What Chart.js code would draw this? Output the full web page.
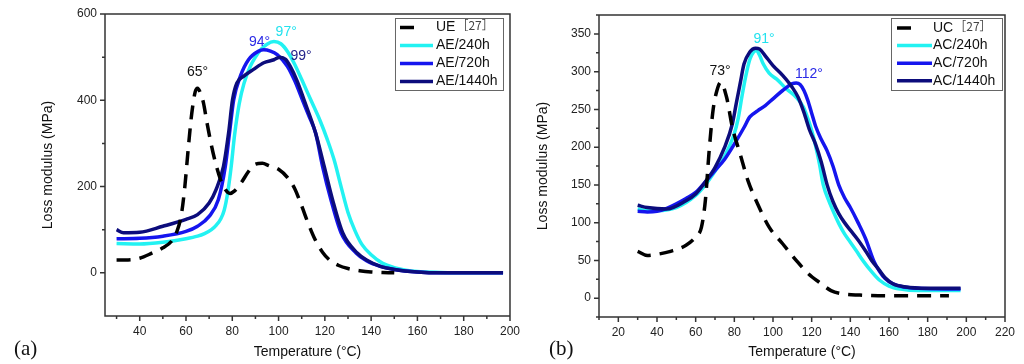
<!DOCTYPE html>
<html>
<head>
<meta charset="utf-8">
<script src="https://cdn.jsdelivr.net/npm/chart.js@4.4.0/dist/chart.umd.min.js"></script>
<style>
  html, body { margin: 0; padding: 0; background: #fff; width: 1024px; height: 364px; overflow: hidden; }
  canvas { position: absolute; top: 0; }
  #chartA { left: 0; }
  #chartB { left: 512px; }
  .panel { position: absolute; font-family: "Liberation Serif", "DejaVu Serif", serif; font-size: 21px; color: #111; }
</style>
</head>
<body>
<canvas id="chartA" width="520" height="364"></canvas>
<canvas id="chartB" width="512" height="364"></canvas>
<div class="panel" style="left:14px; top:336px;">(a)</div>
<div class="panel" style="left:549px; top:336px;">(b)</div>
<script>
// ---- panel (a): epoxy, loss modulus vs temperature ----
const tUE   = [30, 35, 40, 45, 50, 54, 56, 58, 59.5, 61, 62.5, 64, 65, 66, 67.5, 69, 71, 73, 75, 77, 79, 81, 84, 87, 90, 93, 96, 100, 104, 107, 110, 113, 116, 119, 122, 126, 130, 135, 140, 145, 150];
const eUE   = [30, 30, 34, 45, 58, 75, 95, 135, 200, 290, 370, 420, 428, 420, 395, 350, 295, 250, 215, 193, 184, 190, 210, 235, 252, 254, 248, 240, 220, 195, 155, 112, 75, 48, 30, 17, 10, 5, 2, 1, 0];
const t240a = [30, 40, 50, 60, 65, 68, 71, 73, 75, 76.5, 78, 79.5, 81, 83, 85, 87.8, 90, 92.2, 95, 98, 101, 104, 107, 110, 114, 118, 121, 124, 127, 130, 133, 136, 140, 145, 150, 155, 160, 170, 180, 197];
const e240a = [68, 67, 71, 79, 85, 91, 100, 110, 125, 145, 185, 245, 320, 392, 438, 479, 500, 517, 530, 536, 531, 512, 483, 448, 400, 352, 310, 262, 200, 140, 98, 66, 42, 22, 12, 6, 3, 1, 0, 0];
const t720a = [30, 40, 50, 60, 65, 70, 74, 77, 78.8, 80.6, 83.5, 87, 91.4, 93.6, 96.5, 99.4, 103.8, 107, 110.3, 113, 116, 119, 122.6, 127, 133.5, 138, 144, 150, 160, 170, 197];
const e720a = [79, 80, 85, 96, 108, 131, 170, 247, 324, 401, 456, 494, 514, 517, 514, 506, 479, 445, 401, 365, 324, 247, 170, 93, 46, 28, 15, 8, 2, 0, 0];
const t1440a = [30, 33, 40, 50, 60, 65, 70, 73, 76.2, 78.4, 80.1, 82, 85, 89, 93.6, 98, 100.6, 103, 105, 108, 111, 116, 119.7, 123.3, 127.7, 134, 138, 144, 150, 160, 170, 197];
const e1440a = [100, 93, 94, 108, 124, 135, 162, 193, 247, 324, 401, 440, 456, 471, 487, 494, 500, 495, 479, 445, 401, 324, 247, 170, 93, 46, 30, 15, 8, 2, 0, 0];

// ---- panel (b) ----
const tUC   = [30, 35, 40, 47, 55, 60, 63, 65, 67, 69, 71, 73, 76, 79, 83, 87, 92, 98, 105, 112, 118, 125, 130, 135, 145, 160, 191];
const eUC   = [62, 56.5, 58, 62, 70, 81, 94, 129, 196, 249, 275, 286, 266, 226, 191, 156, 125, 94, 72, 50, 33, 19, 10, 6, 4, 3, 3];
const t240b = [30, 35, 40, 50, 60, 65, 70, 75, 80, 82, 84, 86, 88, 90, 91.5, 93, 95, 98, 101.9, 107, 112, 115.7, 118, 120, 122, 124, 126, 129, 132, 134, 137, 140, 143, 147, 151, 155, 160, 166, 175, 197];
const e240b = [118, 116, 116, 120, 136, 150, 168, 188, 218, 238, 268, 295, 316, 326, 328, 322, 310, 298, 290, 277, 266, 253, 238, 222, 202, 178, 150, 128, 110, 99, 85, 74, 63, 48, 35, 24, 16, 12, 10, 10];
const t720b = [30, 35, 40, 45, 50, 55, 60, 65, 70, 75, 80, 85, 88, 92, 96, 100, 105, 110, 112, 114, 116, 118, 120, 122, 125, 128, 131, 134, 137, 140, 144, 148, 152, 155, 158, 162, 167, 175, 197];
const e720b = [115, 114, 115, 119, 125, 132, 140, 154, 169, 184, 204, 226, 240, 248, 255, 264, 275, 284, 285, 283, 275, 262, 245, 228, 210, 195, 175, 150, 133, 120, 100, 78, 50, 36, 26, 19, 15, 13, 12];
const t1440b = [30, 35, 45, 55, 60, 65, 70, 75, 79, 81, 83, 85, 88, 91, 93, 96, 100, 105, 110, 113, 116, 119, 122, 125, 128, 131, 134, 137, 140, 144, 148, 151, 155, 158, 162, 168, 180, 197];
const e1440b = [123, 120, 118, 129, 138, 154, 173, 200, 231, 258, 284, 310, 326, 331, 330, 321, 308, 295, 279, 266, 246, 222, 204, 180, 150, 128, 112, 100, 90, 77, 62, 50, 37, 27, 19, 15, 13, 13];

// tick values
const xTicksA = [40, 60, 80, 100, 120, 140, 160, 180, 200];
const xMinorA = [30, 50, 70, 90, 110, 130, 150, 170, 190];
const yTicksA = [0, 200, 400, 600];
const yMinorA = [100, 300, 500];
const xTicksB = [20, 40, 60, 80, 100, 120, 140, 160, 180, 200, 220];
const xMinorB = [10, 30, 50, 70, 90, 110, 130, 150, 170, 190, 210];
const yTicksB = [0, 50, 100, 150, 200, 250, 300, 350];
const yMinorB = [-25, 25, 75, 125, 175, 225, 275, 325, 375];

const namesA = ['UE', 'AE/240h', 'AE/720h', 'AE/1440h'];
const namesB = ['UC', 'AC/240h', 'AC/720h', 'AC/1440h'];
const refTag = '［27］';

const peaksA = [
  {text: '65°', x: 65, y: 465, color: '#111'},
  {text: '94°', x: 91.8, y: 534, color: '#2a2ae6'},
  {text: '97°', x: 103.3, y: 559, color: '#22e2ee'},
  {text: '99°', x: 109.7, y: 502, color: '#23238a'}
];
const peaksB = [
  {text: '73°', x: 72.6, y: 301, color: '#111'},
  {text: '91°', x: 95.4, y: 343, color: '#22e2ee'},
  {text: '112°', x: 118.6, y: 297, color: '#2a2ae6'}
];

const CYAN = '#22f2f2', BLUE = '#1515ee', NAVY = '#0c0c7c';
const SANS = '"Liberation Sans", Arial, sans-serif';

const pts = (xs, ys) => xs.map((x, i) => ({x: x, y: ys[i]}));

function series(label, xs, ys, color, order, dash) {
  return {
    label: label,
    data: pts(xs, ys),
    borderColor: color,
    borderWidth: 3.5,
    borderDash: dash || [],
    pointRadius: 0,
    fill: false,
    cubicInterpolationMode: 'monotone',
    order: order
  };
}

// frame + outward ticks, Origin style
const framePlugin = {
  id: 'frame',
  afterDatasetsDraw(chart, args, o) {
    const {ctx, chartArea: a, scales: {x, y}} = chart;
    ctx.save();
    ctx.setLineDash([]);
    ctx.strokeStyle = '#333';
    ctx.lineWidth = 1.5;
    ctx.beginPath();
    ctx.moveTo(a.left, a.top);
    ctx.lineTo(a.right, a.top);
    ctx.lineTo(a.right, a.bottom);
    ctx.lineTo(a.left, a.bottom);
    ctx.closePath();
    x.ticks.forEach(t => { const p = x.getPixelForValue(t.value); ctx.moveTo(p, a.bottom); ctx.lineTo(p, a.bottom + 5); });
    o.xMinor.forEach(v => { const p = x.getPixelForValue(v); ctx.moveTo(p, a.bottom); ctx.lineTo(p, a.bottom + 3); });
    y.ticks.forEach(t => { const p = y.getPixelForValue(t.value); ctx.moveTo(a.left, p); ctx.lineTo(a.left - 5, p); });
    o.yMinor.forEach(v => { const p = y.getPixelForValue(v); ctx.moveTo(a.left, p); ctx.lineTo(a.left - 3, p); });
    ctx.stroke();
    ctx.restore();
  }
};

// peak temperature labels
const peakPlugin = {
  id: 'peaks',
  afterDatasetsDraw(chart, args, o) {
    const {ctx, scales: {x, y}} = chart;
    ctx.save();
    ctx.font = '14px ' + SANS;
    ctx.textAlign = 'center';
    ctx.textBaseline = 'middle';
    o.labels.forEach(l => {
      ctx.fillStyle = l.color;
      ctx.fillText(l.text, x.getPixelForValue(l.x), y.getPixelForValue(l.y));
    });
    ctx.restore();
  }
};

// boxed legend inside the plot
const legendPlugin = {
  id: 'boxLegend',
  afterDraw(chart, args, o) {
    const {ctx, chartArea: a} = chart;
    const bx = a.right - o.rightGap - o.width, by = a.top + o.topGap;
    ctx.save();
    ctx.fillStyle = '#fff';
    ctx.fillRect(bx, by, o.width, o.height);
    ctx.strokeStyle = '#666';
    ctx.lineWidth = 1;
    ctx.strokeRect(bx + 0.5, by + 0.5, o.width, o.height);
    chart.data.datasets.forEach((ds, i) => {
      const yy = by + o.firstRow + i * o.rowGap;
      const dashed = ds.borderDash && ds.borderDash.length;
      ctx.strokeStyle = ds.borderColor;
      ctx.lineWidth = ds.borderWidth;
      ctx.beginPath();
      ctx.moveTo(bx + o.lineStart, yy);
      ctx.lineTo(bx + o.lineStart + (dashed ? ds.borderDash[0] : o.lineLen), yy);
      ctx.stroke();
      ctx.fillStyle = '#111';
      ctx.textBaseline = 'middle';
      ctx.font = '14px ' + SANS;
      ctx.fillText(ds.label, bx + o.textStart, yy);
      if (dashed) {
        const w = ctx.measureText(ds.label).width;
        ctx.font = '12px "Noto Sans CJK SC", ' + SANS;
        ctx.fillStyle = '#444';
        ctx.fillText(refTag, bx + o.textStart + w + 1, yy - 2);
      }
    });
    ctx.restore();
  }
};

function makeChart(id, d) {
  return new Chart(document.getElementById(id), {
    type: 'line',
    data: { datasets: d.datasets },
    options: {
      responsive: false,
      animation: false,
      layout: { padding: d.padding },
      plugins: {
        legend: { display: false },
        tooltip: { enabled: false },
        frame: { xMinor: d.xMinor, yMinor: d.yMinor },
        peaks: { labels: d.peaks },
        boxLegend: d.legend
      },
      scales: {
        x: {
          type: 'linear', min: d.xMin, max: d.xMax,
          grid: { display: false }, border: { display: false },
          afterBuildTicks: s => { s.ticks = d.xTicks.map(v => ({value: v})); },
          afterFit: s => { s.height = d.xHeight; },
          ticks: { padding: 0, color: '#222', font: { family: SANS, size: 12 } },
          title: { display: true, text: 'Temperature (°C)', color: '#111', font: { family: SANS, size: 14 }, padding: { top: 0, bottom: 3 } }
        },
        y: {
          type: 'linear', min: d.yMin, max: d.yMax,
          grid: { display: false }, border: { display: false },
          afterBuildTicks: s => { s.ticks = d.yTicks.map(v => ({value: v})); },
          afterFit: s => { s.width = d.yWidth; },
          ticks: { padding: 0, color: '#222', font: { family: SANS, size: 12 } },
          title: { display: true, text: 'Loss modulus (MPa)', color: '#111', font: { family: SANS, size: 14 }, padding: { top: d.yTitlePad, bottom: 0 } }
        }
      }
    },
    plugins: [framePlugin, peakPlugin, legendPlugin]
  });
}

makeChart('chartA', {
  datasets: [
    series(namesA[0], tUE, eUE, '#000', 0, [14, 9]),
    series(namesA[1], t240a, e240a, CYAN, 3),
    series(namesA[2], t720a, e720a, BLUE, 2),
    series(namesA[3], t1440a, e1440a, NAVY, 1)
  ],
  padding: { top: 14, right: 10, bottom: 0, left: 0 },
  xMin: 25, xMax: 200, yMin: -100, yMax: 600,
  xTicks: xTicksA, xMinor: xMinorA, yTicks: yTicksA, yMinor: yMinorA,
  xHeight: 48, yWidth: 105, yTitlePad: 40,
  peaks: peaksA,
  legend: { rightGap: 7, topGap: 4, width: 108, height: 72, firstRow: 9.5, rowGap: 18, lineStart: 5, lineLen: 33, textStart: 41 }
});

makeChart('chartB', {
  datasets: [
    series(namesB[0], tUC, eUC, '#000', 0, [14, 9]),
    series(namesB[1], t240b, e240b, CYAN, 3),
    series(namesB[2], t720b, e720b, BLUE, 2),
    series(namesB[3], t1440b, e1440b, NAVY, 1)
  ],
  padding: { top: 15, right: 19, bottom: 0, left: 0 },
  xMin: 10, xMax: 220, yMin: -25, yMax: 375,
  xTicks: xTicksB, xMinor: xMinorB, yTicks: yTicksB, yMinor: yMinorB,
  xHeight: 47, yWidth: 87, yTitlePad: 23,
  peaks: peaksB,
  legend: { rightGap: 3, topGap: 3, width: 111, height: 72, firstRow: 10, rowGap: 17.6, lineStart: 6, lineLen: 35, textStart: 42 }
});
</script>
</body>
</html>
